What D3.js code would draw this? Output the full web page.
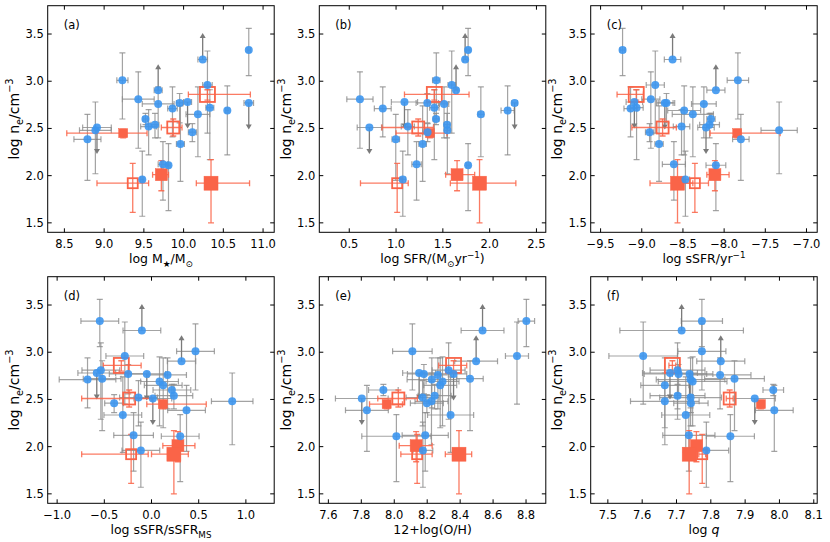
<!DOCTYPE html>
<html><head><meta charset="utf-8">
<script src="https://cdn.jsdelivr.net/npm/d3@7"></script>
<style>
body{margin:0;background:#fff;}
svg text{font-family:"DejaVu Sans",sans-serif;fill:#000;}
</style></head><body>
<svg id="c" width="830" height="542"></svg>
<script>
// ---------- shared electron density (blue points) ----------
const yVal = [2.385, 2.48, 2.51, 3.01, 2.81, 2.60, 2.52, 2.54, 2.905, 2.76, 1.96, 2.12, 2.11, 2.71, 2.77, 2.335, 2.78, 2.65, 2.46, 3.23, 2.96, 2.72, 2.69, 3.33, 2.77];
const yLo  = [1.95, 2.02, null, 2.60, 2.29, 2.54, 2.22, 2.40, null, 2.40, 1.57, 1.74, 1.63, 2.41, 2.56, 1.94, null, 2.20, 2.36, null, 2.45, 2.17, 2.22, 3.06, null];
const yHi  = [2.65, 2.78, null, 3.30, 3.10, 2.66, 2.70, 2.66, null, 2.94, 2.26, 2.36, 2.34, 2.94, 2.87, 2.74, null, 2.94, 2.55, null, 3.32, 2.91, 2.95, 3.56, null];
const yLimEnd = [null, null, 2.23, null, null, null, null, null, 3.18, null, null, null, null, null, null, null, 2.50, null, null, 3.51, null, null, null, null, 2.49];

// ---------- per-panel x values of blue points ----------
const xA  = [8.79, 8.89, 8.91, 9.23, 9.43, 9.52, 9.56, 9.64, 9.68, 9.68, 9.48, 9.74, 9.81, 9.86, 9.95, 9.96, 10.05, 10.18, 10.11, 10.24, 10.30, 10.33, 10.55, 10.82, 10.82];
const xeA = [0.17, 0.2, 0.18, 0.07, 0.2, 0.03, 0.1, 0.05, 0.05, 0.2, 0.02, 0.06, 0.02, 0.06, 0.04, 0.05, 0.05, 0.15, 0.05, 0.06, 0.06, 0.05, 0.02, 0.02, 0.06];
const xB  = [0.997, 1.548, 0.715, 1.430, 0.614, 1.427, 1.126, 1.545, 1.641, 1.513, 1.072, 1.219, 1.770, 0.858, 1.334, 1.284, 1.090, 1.906, 1.337, 1.738, 1.595, 1.409, 2.192, 1.770, 2.267];
const xeB = [0.04, 0.03, 0.13, 0.04, 0.14, 0.03, 0.07, 0.03, 0.02, 0.05, 0.03, 0.05, 0.02, 0.09, 0.12, 0.04, 0.14, 0.03, 0.05, 0.02, 0.04, 0.05, 0.07, 0.02, 0.03];
const xC  = [-7.797, -7.332, -8.22, -7.833, -8.89, -8.16, -8.517, -8.177, -8.10, -8.246, -8.47, -8.61, -8.10, -9.136, -8.70, -8.79, -9.09, -8.38, -8.905, -8.626, -8.836, -9.063, -8.485, -9.233, -8.72];
const xeC = [0.1, 0.22, 0.1, 0.13, 0.11, 0.05, 0.1, 0.12, 0.11, 0.15, 0.05, 0.14, 0.12, 0.08, 0.1, 0.05, 0.1, 0.25, 0.05, 0.1, 0.11, 0.08, 0.2, 0.03, 0.1];
const xD  = [0.371, 0.855, 0.014, 0.466, -0.537, 0.216, -0.138, 0.237, 0.318, 0.17, -0.113, -0.19, 0.304, -0.678, -0.247, -0.304, -0.58, 0.124, -0.396, -0.102, -0.283, -0.523, 0.085, -0.548, -0.05];
const xeD = [0.2, 0.22, 0.2, 0.2, 0.2, 0.2, 0.2, 0.2, 0.15, 0.2, 0.2, 0.21, 0.2, 0.3, 0.2, 0.2, 0.2, 0.2, 0.1, 0.2, 0.2, 0.2, 0.2, 0.2, 0.2];
const xE  = [7.834, 8.226, 7.803, 8.11, 8.33, 7.934, 8.172, 8.245, 8.497, 8.265, 8.174, 8.188, 8.013, 8.228, 8.18, 8.342, 8.151, 8.279, 8.198, 8.536, 8.745, 8.46, 8.293, 8.802, 8.36];
const xeE = [0.13, 0.1, 0.16, 0.12, 0.1, 0.09, 0.1, 0.1, 0.13, 0.08, 0.06, 0.14, 0.21, 0.15, 0.1, 0.14, 0.1, 0.1, 0.1, 0.13, 0.07, 0.08, 0.1, 0.05, 0.08];
const xF  = [7.985, 7.666, 7.928, 7.774, 7.703, 7.982, 7.741, 7.703, 7.829, 7.827, 7.787, 7.736, 7.857, 7.741, 7.706, 7.727, 7.681, 7.666, 7.742, 7.715, 7.603, 7.869, 7.747, 7.774, 7.738];
const xeF = [0.055, 0.1, 0.06, 0.07, 0.08, 0.03, 0.09, 0.08, 0.07, 0.09, 0.065, 0.076, 0.07, 0.1, 0.1, 0.07, 0.08, 0.07, 0.05, 0.18, 0.1, 0.087, 0.1, 0.06, 0.05];

// ---------- stacked samples (red squares) ----------
const redY      = [2.86, 2.51, 2.45, 1.92, 2.01, 1.92];
const redYLo    = [2.80, 2.42, 2.40, 1.61, 1.84, 1.50];
const redYHi    = [2.91, 2.60, 2.49, 2.13, 2.16, 2.17];
const redSize   = [15, 12, 9, 10, 12, 14];
const redFilled = [false, false, true, false, true, true];
const redXA = [10.30, 9.87, 9.24, 9.36, 9.72, 10.345], redXLoA = [10.06, 9.72, 8.53, 8.91, 9.61, 10.16], redXHiA = [10.84, 9.98, 9.54, 9.56, 9.81, 10.83];
const redXB = [1.409, 1.237, 1.362, 1.012, 1.652, 1.892], redXLoB = [1.09, 0.85, 1.0, 0.62, 1.53, 1.58], redXHiB = [1.78, 1.40, 1.545, 1.13, 1.84, 2.28];
const redXC = [-9.067, -8.747, -7.841, -8.355, -8.112, -8.566], redXLoC = [-9.30, -9.12, -8.17, -8.54, -8.21, -8.9], redXHiC = [-8.98, -8.58, -7.32, -8.19, -7.94, -8.38];
const redXD = [-0.32, -0.237, 0.12, -0.216, 0.28, 0.237], redXLoD = [-0.51, -0.74, -0.05, -0.74, 0.12, 0.0], redXHiD = [-0.11, 0.0, 0.58, -0.035, 0.46, 0.39];
const redXE = [8.36, 8.025, 7.954, 8.139, 8.133, 8.393], redXLoE = [8.27, 7.9, 7.85, 8.04, 8.03, 8.31], redXHiE = [8.44, 8.14, 8.05, 8.23, 8.23, 8.47];
const redXF = [7.688, 7.855, 7.946, 7.775, 7.758, 7.737], redXLoF = [7.678, 7.845, 7.946, 7.765, 7.758, 7.737], redXHiF = [7.698, 7.865, 7.946, 7.785, 7.758, 7.737];

// ---------- axes ----------
const yTicks = [1.5, 2.0, 2.5, 3.0, 3.5];
const xTicksA = [8.5, 9.0, 9.5, 10.0, 10.5, 11.0];
const xTicksB = [0.5, 1.0, 1.5, 2.0, 2.5];
const xTicksC = [-9.5, -9.0, -8.5, -8.0, -7.5, -7.0];
const xTicksD = [-1.0, -0.5, 0.0, 0.5, 1.0];
const xTicksE = [7.6, 7.8, 8.0, 8.2, 8.4, 8.6, 8.8];
const xTicksF = [7.5, 7.6, 7.7, 7.8, 7.9, 8.0, 8.1];
const panelNames = ["(a)", "(b)", "(c)", "(d)", "(e)", "(f)"];
const xLabels = [
  [["log M",""],["★","sub"],["/M",""],["⊙","sub"]],
  [["log SFR/(M",""],["⊙","sub"],["yr",""],["−1","sup"],[")",""]],
  [["log sSFR/yr",""],["−1","sup"]],
  [["log sSFR/sSFR",""],["MS","sub"]],
  [["12+log(O/H)",""]],
  [["log ",""],["q","it"]]
];
const yLabel = [["log n",""],["e","sub"],["/cm",""],["−3","sup"]];

const panels = [
  {x:xA, xe:xeA, rx:redXA, rlo:redXLoA, rhi:redXHiA, dom:[8.29, 11.14], ticks:xTicksA},
  {x:xB, xe:xeB, rx:redXB, rlo:redXLoB, rhi:redXHiB, dom:[0.18, 2.60], ticks:xTicksB},
  {x:xC, xe:xeC, rx:redXC, rlo:redXLoC, rhi:redXHiC, dom:[-9.62, -6.87], ticks:xTicksC},
  {x:xD, xe:xeD, rx:redXD, rlo:redXLoD, rhi:redXHiD, dom:[-1.1, 1.3], ticks:xTicksD},
  {x:xE, xe:xeE, rx:redXE, rlo:redXLoE, rhi:redXHiE, dom:[7.545, 8.92], ticks:xTicksE},
  {x:xF, xe:xeF, rx:redXF, rlo:redXLoF, rhi:redXHiF, dom:[7.45, 8.11], ticks:xTicksF}
];

const svg = d3.select("#c");
const W = 226.5, H = 226.6;
const lefts = [47.7, 319.3, 590.7], tops = [5.7, 276.7];
const GREY = "#8c8c8c", ARROW = "#7a7a7a", BLUE = "#3c96f0", RED = "#fa6448";
const fmt = d3.format(".1f");

function richText(sel, parts, size) {
  const t = sel.append("text").attr("font-size", size);
  let shift = 0;
  parts.forEach(([s, m]) => {
    const ts = t.append("tspan").text(s);
    const target = m === "sub" ? size * 0.28 : m === "sup" ? -size * 0.42 : 0;
    if (target - shift !== 0) ts.attr("dy", target - shift);
    shift = target;
    if (m === "sub" || m === "sup") ts.attr("font-size", size * 0.7);
    if (m === "it") ts.attr("font-style", "italic");
  });
  return t;
}

panels.forEach((p, i) => {
  const col = i % 3, row = Math.floor(i / 3);
  const L = lefts[col], T = tops[row];
  const g = svg.append("g").attr("transform", `translate(${L},${T})`);
  const x = d3.scaleLinear().domain(p.dom).range([0, W]);
  const y = d3.scaleLinear().domain([1.4, 3.8]).range([H, 0]);
  const clipId = "clip" + i;
  g.append("clipPath").attr("id", clipId).append("rect").attr("width", W).attr("height", H);
  const d = g.append("g").attr("clip-path", `url(#${clipId})`);
  const cap = 3;

  // grey error bars
  const eb = d.append("g").attr("stroke", GREY).attr("stroke-width", 1.2).attr("stroke-opacity", 0.8).attr("fill", "none");
  yVal.forEach((yv, k) => {
    const cx = x(p.x[k]), cy = y(yv);
    const x0 = x(p.x[k] - p.xe[k]), x1 = x(p.x[k] + p.xe[k]);
    eb.append("line").attr("x1", x0).attr("x2", x1).attr("y1", cy).attr("y2", cy);
    eb.append("line").attr("x1", x0).attr("x2", x0).attr("y1", cy - cap).attr("y2", cy + cap);
    eb.append("line").attr("x1", x1).attr("x2", x1).attr("y1", cy - cap).attr("y2", cy + cap);
    if (yLo[k] !== null) {
      const y0 = y(yLo[k]), y1 = y(yHi[k]);
      eb.append("line").attr("x1", cx).attr("x2", cx).attr("y1", y0).attr("y2", y1);
      eb.append("line").attr("x1", cx - cap).attr("x2", cx + cap).attr("y1", y0).attr("y2", y0);
      eb.append("line").attr("x1", cx - cap).attr("x2", cx + cap).attr("y1", y1).attr("y2", y1);
    }
  });
  // limit arrows
  yVal.forEach((yv, k) => {
    if (yLimEnd[k] === null) return;
    const cx = x(p.x[k]), cy = y(yv), ty = y(yLimEnd[k]);
    const dir = ty < cy ? -1 : 1;
    d.append("line").attr("x1", cx).attr("x2", cx).attr("y1", cy).attr("y2", ty - dir * 4)
      .attr("stroke", ARROW).attr("stroke-width", 1.3);
    d.append("path").attr("d", `M${cx - 3},${ty - dir * 5}L${cx + 3},${ty - dir * 5}L${cx},${ty}Z`)
      .attr("fill", ARROW);
  });
  // red error bars
  const rb = d.append("g").attr("stroke", RED).attr("stroke-width", 1.3).attr("stroke-opacity", 0.85);
  redY.forEach((yv, k) => {
    const cx = x(p.rx[k]), cy = y(yv);
    const x0 = x(p.rlo[k]), x1 = x(p.rhi[k]);
    if (x1 - x0 > 1) {
      rb.append("line").attr("x1", x0).attr("x2", x1).attr("y1", cy).attr("y2", cy);
      rb.append("line").attr("x1", x0).attr("x2", x0).attr("y1", cy - cap).attr("y2", cy + cap);
      rb.append("line").attr("x1", x1).attr("x2", x1).attr("y1", cy - cap).attr("y2", cy + cap);
    }
    const y0 = y(redYLo[k]), y1 = y(redYHi[k]);
    rb.append("line").attr("x1", cx).attr("x2", cx).attr("y1", y0).attr("y2", y1);
    rb.append("line").attr("x1", cx - cap).attr("x2", cx + cap).attr("y1", y0).attr("y2", y0);
    rb.append("line").attr("x1", cx - cap).attr("x2", cx + cap).attr("y1", y1).attr("y2", y1);
  });
  // red squares
  redY.forEach((yv, k) => {
    const s = redSize[k], cx = x(p.rx[k]), cy = y(yv);
    const r = d.append("rect").attr("x", cx - s / 2).attr("y", cy - s / 2).attr("width", s).attr("height", s);
    if (redFilled[k]) r.attr("fill", RED).attr("stroke", RED).attr("stroke-width", 0.5);
    else r.attr("fill", "none").attr("stroke", RED).attr("stroke-width", 1.8);
  });
  // blue points
  d.append("g").selectAll("circle").data(yVal).join("circle")
    .attr("cx", (v, k) => x(p.x[k])).attr("cy", v => y(v)).attr("r", 4)
    .attr("fill", BLUE).attr("fill-opacity", 0.9);

  // ticks (inward, all four sides)
  const tk = g.append("g").attr("stroke", "#000").attr("stroke-width", 1);
  p.ticks.forEach(t => {
    const tx = x(t);
    tk.append("line").attr("x1", tx).attr("x2", tx).attr("y1", H).attr("y2", H - 4);
    tk.append("line").attr("x1", tx).attr("x2", tx).attr("y1", 0).attr("y2", 4);
    g.append("text").attr("x", tx).attr("y", H + 15.5).attr("text-anchor", "middle")
      .attr("font-size", 11.5).text(fmt(t));
  });
  yTicks.forEach(t => {
    const ty = y(t);
    tk.append("line").attr("x1", 0).attr("x2", 4).attr("y1", ty).attr("y2", ty);
    tk.append("line").attr("x1", W).attr("x2", W - 4).attr("y1", ty).attr("y2", ty);
    g.append("text").attr("x", -4).attr("y", ty + 4).attr("text-anchor", "end")
      .attr("font-size", 11.5).text(fmt(t));
  });
  // frame
  g.append("rect").attr("width", W).attr("height", H).attr("fill", "none")
    .attr("stroke", "#000").attr("stroke-width", 1);
  // panel tag
  g.append("text").attr("x", 16).attr("y", 23).attr("font-size", 11.5).text(panelNames[i]);
  // x label
  richText(g, xLabels[i], 12.5).attr("x", W / 2).attr("y", H + 31).attr("text-anchor", "middle");
  // y label
  richText(g.append("g").attr("transform", `translate(-28.5,${H / 2}) rotate(-90)`), yLabel, 14)
    .attr("text-anchor", "middle");
});
</script>
</body></html>
